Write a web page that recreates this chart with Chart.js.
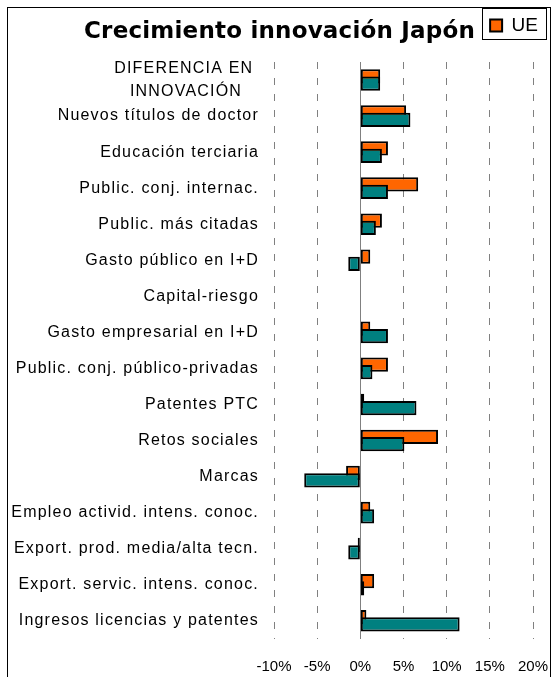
<!DOCTYPE html>
<html><head><meta charset="utf-8">
<script src="https://cdn.jsdelivr.net/npm/chart.js@4/dist/chart.umd.min.js"></script>
<style>
html,body{margin:0;padding:0;background:#fff;}
#wrap{position:relative;width:556px;height:677px;overflow:hidden;}
#frame{position:absolute;left:7px;top:7px;width:544px;height:700px;border:1px solid #000;box-sizing:border-box;}
#title{position:absolute;left:0;top:19px;width:559px;text-align:center;font-family:'DejaVu Sans';font-weight:bold;font-size:23px;line-height:23px;letter-spacing:0.2px;color:#000;white-space:nowrap;}
canvas{position:absolute;left:0;top:0;}
</style></head><body>
<div id="wrap">
<div id="frame"></div>
<canvas id="c" width="556" height="677"></canvas>
<div id="title">Crecimiento innovación Japón</div>
</div>
<script>
// ---- data ----
const categories = [
  ['DIFERENCIA EN ', 'INNOVACIÓN   '],
  'Nuevos títulos de doctor',
  'Educación terciaria',
  'Public. conj. internac.',
  'Public. más citadas',
  'Gasto público en I+D',
  'Capital-riesgo',
  'Gasto empresarial en I+D',
  'Public. conj. público-privadas',
  'Patentes PTC',
  'Retos sociales',
  'Marcas',
  'Empleo activid. intens. conoc.',
  'Export. prod. media/alta tecn.',
  'Export. servic. intens. conoc.',
  'Ingresos licencias y patentes'
];
const ueValues    = [2.3, 5.3, 3.2, 6.7, 2.5, 1.15, null, 1.15, 3.2, 0.45, 9.0, -1.65, 1.15, -0.3, 1.6, 0.7];
const japonValues = [2.3, 5.8, 2.5, 3.2, 1.8, -1.4, null, 3.2, 1.4, 6.5, 5.1, -6.5, 1.6, -1.4, 0.45, 11.5];
const xMin = -10, xMax = 20, xStep = 5;
const seriesNames = ['UE', 'Japón'];

// category scale whose labels are drawn with extra letter spacing
const CatBase = Chart.registry.getScale('category');
class SpacedCategory extends CatBase {
  drawLabels(area) {
    const c = this.ctx;
    c.save();
    c.letterSpacing = '1.2px';
    super.drawLabels(area);
    c.restore();
  }
}
SpacedCategory.id = 'spacedCategory';
Chart.register(SpacedCategory);

const layoutPlugin = {
  id: 'layoutTweaks',
  afterLayout(chart) {
    const l = chart.legend;
    if (l) { l.left += 15; l.right += 15; l.top = 6; l.bottom = 45; }
  },
  beforeDatasetsDraw(chart) {
    const {ctx, chartArea} = chart;
    const x0 = Math.round(chart.scales.x.getPixelForValue(0)) + 0.5;
    ctx.save();
    ctx.strokeStyle = '#808080';
    ctx.lineWidth = 1;
    ctx.beginPath();
    ctx.moveTo(x0, chartArea.top);
    ctx.lineTo(x0, chartArea.bottom);
    ctx.stroke();
    ctx.restore();
  },
  beforeDatasetDraw(chart, args) {
    if (args.index === 1 && !chart.$late) return false;
  },
  afterDatasetsDraw(chart) {
    chart.$late = true;
    const meta = chart.getDatasetMeta(1);
    const ctx = chart.ctx, a = chart.chartArea;
    ctx.save();
    ctx.beginPath();
    ctx.rect(a.left - 5, a.top, a.right - a.left + 10, a.bottom - a.top);
    ctx.clip();
    meta.controller.draw();
    ctx.restore();
    chart.$late = false;
  },
  afterDraw(chart) {
    const hb = chart.legend && chart.legend.legendHitBoxes && chart.legend.legendHitBoxes[0];
    if (!hb) return;
    const ctx = chart.ctx;
    ctx.save();
    ctx.strokeStyle = '#000';
    ctx.lineWidth = 1;
    const x = Math.round(hb.left - 8) + 0.5;
    const w = Math.round(hb.width + 16);
    ctx.strokeRect(x, 8.5, w, 31);
    ctx.restore();
  }
};

new Chart(document.getElementById('c'), {
  type: 'bar',
  data: {
    labels: categories,
    datasets: [
      { label: seriesNames[0], data: ueValues, backgroundColor: '#FF6600', borderColor: '#000', borderWidth: 2, borderSkipped: false },
      { label: seriesNames[1], data: japonValues, backgroundColor: '#008080', borderColor: '#000', borderWidth: 2, borderSkipped: false }
    ]
  },
  options: {
    indexAxis: 'y',
    responsive: false,
    animation: false,
    devicePixelRatio: 1,
    categoryPercentage: 0.41,
    barPercentage: 1.93,
    layout: { padding: { top: 23, right: 23, left: 0, bottom: 0 } },
    plugins: {
      title: { display: false },
      tooltip: { enabled: false },
      legend: {
        display: true,
        position: 'top',
        align: 'end',
        labels: {
          filter: (item) => item.datasetIndex === 0,
          boxWidth: 12,
          boxHeight: 12,
          padding: 10,
          color: '#000',
          font: { family: 'Liberation Sans', size: 19 }
        }
      }
    },
    scales: {
      x: {
        type: 'linear',
        min: xMin, max: xMax,
        afterFit: (s) => { s.height = 35; s.paddingRight = 0; s.paddingLeft = 0; },
        ticks: {
          stepSize: xStep,
          callback: (v) => v + '%',
          color: '#000',
          padding: 19,
          maxRotation: 0,
          font: { family: 'Liberation Sans', size: 15 }
        },
        grid: { color: '#808080', lineWidth: 1, drawTicks: false, borderDash: [7, 9] },
        border: { display: false, dash: [7, 9] }
      },
      y: {
        type: 'spacedCategory',
        afterFit: (s) => { s.width = 274; },
        grid: { display: false, drawTicks: false },
        border: { display: false },
        ticks: {
          autoSkip: false,
          padding: 15,
          color: '#000',
          font: { family: 'Liberation Sans', size: 16, lineHeight: 1.45 }
        }
      }
    }
  },
  plugins: [layoutPlugin]
});
</script>
</body></html>
